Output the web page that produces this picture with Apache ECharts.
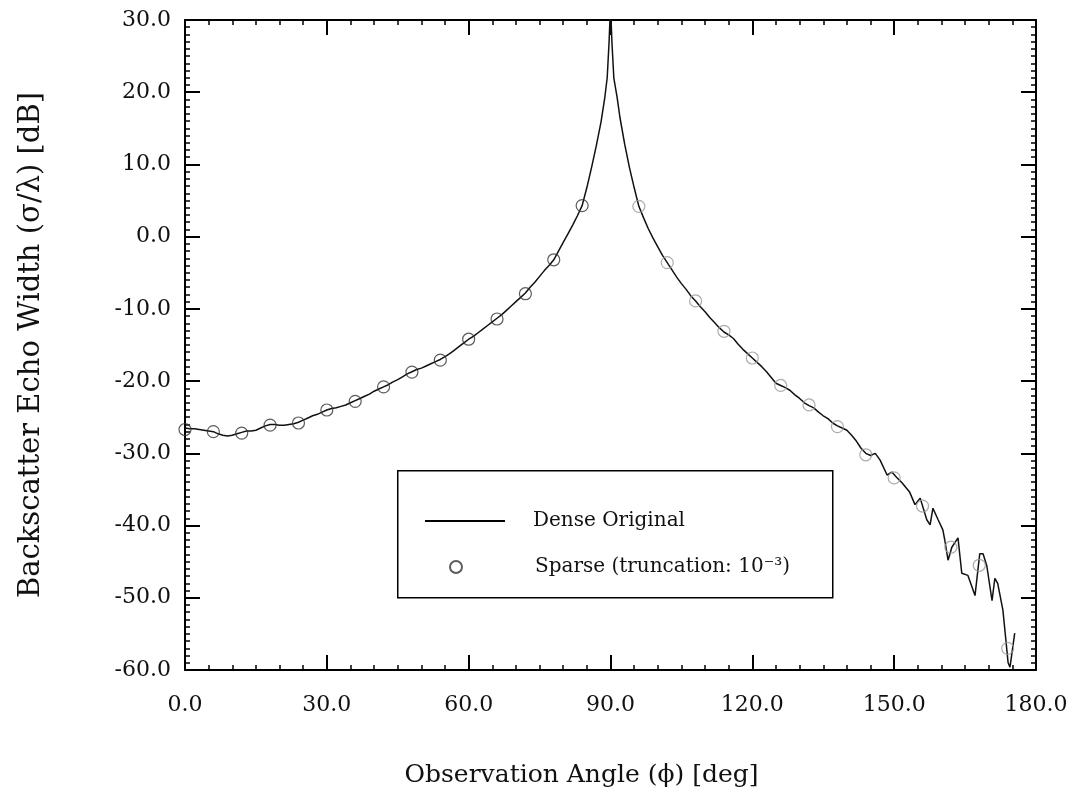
<!DOCTYPE html>
<html>
<head>
<meta charset="utf-8">
<script src="https://cdn.jsdelivr.net/npm/echarts@6/dist/echarts.min.js"></script>
<style>
  html, body { margin: 0; padding: 0; background: #fff; }
  #chart { width: 1080px; height: 806px; }
</style>
</head>
<body>
<div id="chart"></div>
<script>
// dense original curve (angle in deg, echo width in dB)
var denseAngle = [
  0, 1, 2, 3, 4, 5, 6, 7, 8, 9, 10, 11, 12, 13, 14, 15, 16, 17, 18, 19, 20,
  21, 22, 23, 24, 25, 26, 27, 28, 29, 30, 31, 32, 33, 34, 35, 36, 37, 38, 39, 40,
  41, 42, 43, 44, 45, 46, 47, 48, 49, 50, 51, 52, 53, 54, 55, 56, 57, 58, 59, 60,
  61, 62, 63, 64, 65, 66, 67, 68, 69, 70, 71, 72, 73, 74, 75, 76, 77, 78, 79, 80,
  81, 82, 83, 84, 85, 86, 87, 88, 88.8, 89.3, 89.7, 90, 90.3, 90.7, 91.4, 92, 93, 94, 95,
  96, 97, 98, 99, 100, 101, 102, 103, 104, 105, 106, 107, 108, 109, 110,
  111, 112, 113, 114, 115, 116, 117, 118, 119, 120, 121, 122, 123, 124, 125,
  126, 127, 128, 129, 130, 131, 132, 133, 134, 135, 136, 137, 138, 139, 140,
  141, 142, 143, 144, 145, 146, 147, 148.5, 149.5, 150.5, 151.7, 153.3, 154.4, 155.5,
  156.9, 157.6, 158.2, 159.3, 160.3, 160.7, 161.4, 162.2, 163.5, 164.3, 165.6, 167.1,
  168.1, 168.8, 169.6, 170.7, 171.3, 171.9, 173, 174.1, 174.5, 175.5
];
var denseValue = [
  -26.5, -26.6, -26.6, -26.7, -26.8, -26.9, -27.0, -27.3, -27.5, -27.6, -27.5, -27.3, -27.1, -26.9, -26.9, -26.8, -26.5, -26.2, -26.0, -26.0, -26.1,
  -26.1, -26.0, -25.9, -25.7, -25.4, -25.1, -24.8, -24.6, -24.3, -24.0, -23.8, -23.7, -23.5, -23.3, -23.0, -22.7, -22.4, -22.1, -21.8, -21.4,
  -21.1, -20.8, -20.5, -20.1, -19.8, -19.4, -19.0, -18.7, -18.4, -18.2, -17.9, -17.6, -17.3, -17.0, -16.6, -16.2, -15.7, -15.2, -14.7, -14.2,
  -13.8, -13.3, -12.8, -12.3, -11.8, -11.3, -10.8, -10.2, -9.6, -9.0, -8.4, -7.8, -7.0, -6.3, -5.5, -4.7, -4.0, -3.2, -2.0, -0.8,
  0.4, 1.6, 2.9, 4.3, 6.8, 9.6, 12.6, 15.9, 19.3, 22.0, 27.0, 32.0, 27.0, 22.0, 19.3, 16.5, 12.8, 9.6, 6.8,
  4.2, 2.6, 1.1, -0.2, -1.4, -2.6, -3.6, -4.6, -5.6, -6.5, -7.3, -8.2, -8.9, -9.7, -10.4,
  -11.2, -11.9, -12.6, -13.2, -13.6, -14.1, -14.9, -15.6, -16.2, -16.8, -17.4, -18.0, -18.7, -19.5, -20.3,
  -20.6, -20.9, -21.3, -21.9, -22.4, -23.0, -23.4, -23.7, -24.3, -24.8, -25.2, -25.8, -26.2, -26.5, -26.8,
  -27.5, -28.3, -29.3, -30.0, -30.3, -30.0, -30.9, -33.0, -32.6, -33.3, -34.1, -35.4, -37.1, -36.2,
  -39.2, -39.9, -37.6, -39.2, -40.6, -42.0, -44.8, -43.0, -41.7, -46.6, -46.9, -49.7,
  -43.9, -43.9, -45.6, -50.4, -47.3, -48.0, -51.7, -59.0, -59.6, -54.9
];

// sparse reconstruction samples
var sparseAngle = [0, 6, 12, 18, 24, 30, 36, 42, 48, 54, 60, 66, 72, 78, 84,
  96, 102, 108, 114, 120, 126, 132, 138, 144, 150, 156, 162, 168, 174];
var sparseValue = [-26.7, -27.0, -27.2, -26.1, -25.8, -24.0, -22.8, -20.8, -18.75, -17.1, -14.2, -11.4, -7.9, -3.2, 4.3,
  4.2, -3.6, -8.9, -13.1, -16.8, -20.6, -23.3, -26.3, -30.2, -33.4, -37.3, -43.0, -45.5, -57.0];

var xTicks = { min: 0, max: 180, interval: 30 };
var yTicks = { min: -60, max: 30, interval: 10 };

var serif = '"DejaVu Serif", "Liberation Serif", serif';

var chart = echarts.init(document.getElementById('chart'), null, { renderer: 'canvas' });

function axisCommon(minorSplit, showLabel) {
  return {
    type: 'value',
    axisLine: { show: true, onZero: false, lineStyle: { color: '#000', width: 2 } },
    axisTick: { show: true, inside: true, length: 15, lineStyle: { color: '#000', width: 2 } },
    minorTick: { show: true, splitNumber: minorSplit, length: 5, lineStyle: { color: '#000', width: 1.5 } },
    splitLine: { show: false },
    axisLabel: {
      show: showLabel,
      color: '#111',
      fontFamily: serif,
      fontSize: 22,
      formatter: function (v) { return v.toFixed(1); }
    }
  };
}

var xBottom = Object.assign(axisCommon(6, true), xTicks, {
  position: 'bottom',
  name: 'Observation Angle (\u03d5) [deg]',
  nameLocation: 'middle',
  nameGap: 93,
  nameTextStyle: { fontFamily: serif, fontSize: 25, color: '#111', padding: [0, 58, 0, 0] }
});
xBottom.axisLabel.margin = 24;
var xTop = Object.assign(axisCommon(6, false), xTicks, { position: 'top' });

var yLeft = Object.assign(axisCommon(10, true), yTicks, {
  position: 'left',
  name: 'Backscatter Echo Width (\u03c3/\u03bb) [dB]',
  nameLocation: 'middle',
  nameGap: 139,
  nameTextStyle: { fontFamily: serif, fontSize: 29, color: '#111' }
});
yLeft.axisLabel.margin = 14;
var yRight = Object.assign(axisCommon(10, false), yTicks, { position: 'right' });

var denseData = denseAngle.map(function (a, i) { return [a, denseValue[i]]; });
var sparseData = sparseAngle.map(function (a, i) {
  var faint = a > 90;
  return {
    value: [a, sparseValue[i]],
    itemStyle: { borderColor: faint ? '#999' : '#333' }
  };
});

chart.setOption({
  backgroundColor: '#fff',
  animation: false,
  grid: { left: 185, right: 44, top: 20, bottom: 136 },
  xAxis: [xBottom, xTop],
  yAxis: [yLeft, yRight],
  graphic: [{
    type: 'rect',
    left: 397, top: 470,
    shape: { width: 435, height: 127 },
    style: { fill: '#fff', stroke: '#000', lineWidth: 1.5 },
    z: 50
  }],
  legend: [{
    data: [{ name: 'Dense Original', icon: 'rect', itemStyle: { color: '#000' } }],
    left: 425, top: 511,
    itemWidth: 80, itemHeight: 2, padding: 0,
    textStyle: { fontFamily: serif, fontSize: 20, color: '#111', padding: [0, 0, 0, 23] },
    z: 60
  }, {
    data: [{ name: 'Sparse (truncation: 10\u207b\u00b3)', icon: 'circle' }],
    left: 449, top: 557,
    itemWidth: 12, itemHeight: 12, padding: 0,
    textStyle: { fontFamily: serif, fontSize: 20, color: '#111', padding: [0, 0, 0, 68] },
    z: 60
  }],
  series: [{
    name: 'Dense Original',
    type: 'line',
    data: denseData,
    showSymbol: false,
    symbol: 'none',
    clip: true,
    lineStyle: { color: '#111', width: 1.5 },
    itemStyle: { color: '#111' },
    z: 3
  }, {
    name: 'Sparse (truncation: 10\u207b\u00b3)',
    type: 'scatter',
    data: sparseData,
    symbol: 'circle',
    symbolSize: 12,
    itemStyle: { color: 'rgba(255,255,255,0)', borderColor: '#333', borderWidth: 1.2 },
    z: 4
  }]
});

window.addEventListener('resize', function () { chart.resize(); });
</script>
</body>
</html>
